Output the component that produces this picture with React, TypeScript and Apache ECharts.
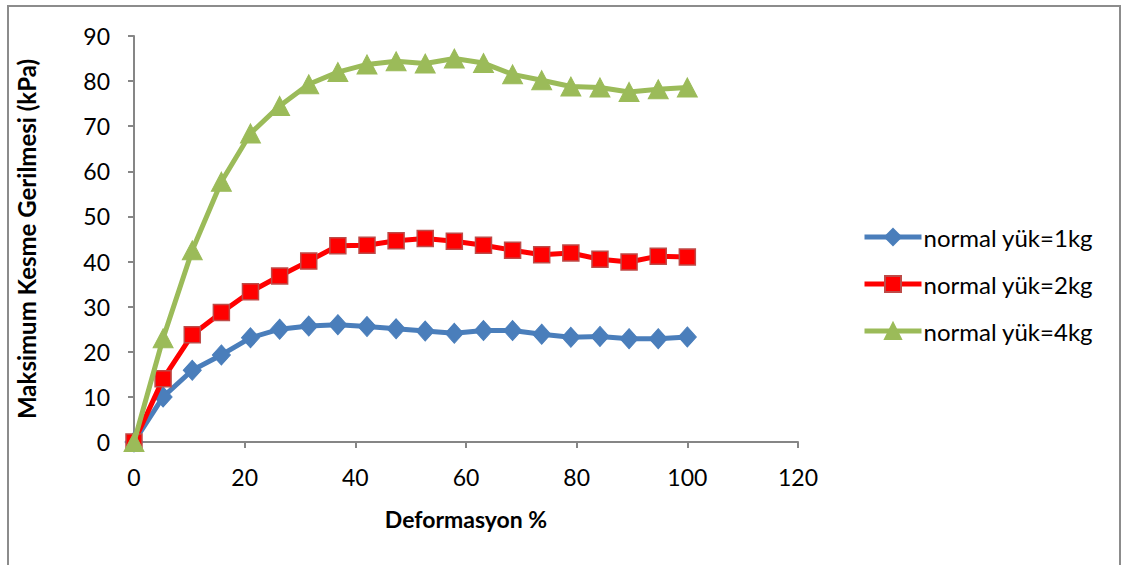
import React, { useEffect, useRef } from "react";
import * as echarts from "echarts";

const deformation = [0, 5.26, 10.53, 15.79, 21.05, 26.32, 31.58, 36.84, 42.11, 47.37, 52.63, 57.89, 63.16, 68.42, 73.68, 78.95, 84.21, 89.47, 94.74, 100];
const load1kg = [0, 10.0, 15.9, 19.3, 23.1, 25.0, 25.7, 26.0, 25.6, 25.1, 24.6, 24.1, 24.7, 24.7, 23.9, 23.2, 23.4, 22.9, 22.9, 23.3];
const load2kg = [0, 14.0, 23.8, 28.7, 33.3, 36.8, 40.1, 43.5, 43.6, 44.6, 45.1, 44.5, 43.6, 42.5, 41.5, 41.9, 40.5, 39.9, 41.2, 41.0];
const load4kg = [0, 23.0, 42.5, 57.7, 68.4, 74.5, 79.3, 82.0, 83.7, 84.4, 83.9, 85.0, 84.0, 81.5, 80.2, 78.8, 78.6, 77.6, 78.2, 78.6];
const seriesNames = ["normal yük=1kg", "normal yük=2kg", "normal yük=4kg"];
const xTitle = "Deformasyon %";
const yTitle = "Maksimum Kesme Gerilmesi (kPa)";

const FONT = "Lato, 'Open Sans', sans-serif";
const AXIS_GRAY = "#868686";

export default function App() {
  const ref = useRef<HTMLDivElement>(null);
  useEffect(() => {
    if (!ref.current) return;
    const chart = echarts.init(ref.current, undefined, { renderer: "svg" });
    const pair = (ys: number[]) => deformation.map((x, i) => [x, ys[i]]);
    chart.setOption({
      animation: false,
      backgroundColor: "#ffffff",
      textStyle: { fontFamily: FONT },
      graphic: [
        {
          type: "rect",
          shape: { x: 8, y: 6, width: 1112, height: 620 },
          style: { fill: "none", stroke: "#8c8c8c", lineWidth: 2 },
          silent: true,
          z: -1,
        },
      ],
      grid: { left: 134, right: 330, top: 36, bottom: 123, containLabel: false },
      legend: {
        orient: "vertical",
        left: 857,
        top: 220,
        itemWidth: 57,
        itemHeight: 20,
        itemGap: 23,
        lineStyle: { width: 5 },
        textStyle: { fontSize: 24, color: "#000", fontFamily: FONT, padding: [0, 0, 0, -3] },
        data: seriesNames,
      },
      xAxis: {
        type: "value",
        min: 0,
        max: 120,
        interval: 20,
        name: xTitle,
        nameLocation: "middle",
        nameGap: 65,
        nameTextStyle: { fontSize: 23, fontWeight: "bold", color: "#000", fontFamily: FONT },
        axisLine: { show: true, lineStyle: { color: AXIS_GRAY, width: 2 } },
        axisTick: { show: true, inside: false, length: 6, lineStyle: { color: AXIS_GRAY, width: 2 } },
        axisLabel: { fontSize: 23, color: "#000", margin: 23, fontFamily: FONT },
        splitLine: { show: false },
      },
      yAxis: {
        type: "value",
        min: 0,
        max: 90,
        interval: 10,
        name: yTitle,
        nameLocation: "middle",
        nameGap: 96,
        nameRotate: 90,
        nameTextStyle: { fontSize: 24, fontWeight: "bold", color: "#000", fontFamily: FONT },
        axisLine: { show: true, lineStyle: { color: AXIS_GRAY, width: 2 } },
        axisTick: { show: true, inside: false, length: 6, lineStyle: { color: AXIS_GRAY, width: 2 } },
        axisLabel: { fontSize: 23, color: "#000", margin: 24, fontFamily: FONT },
        splitLine: { show: false },
      },
      series: [
        {
          name: seriesNames[0],
          type: "line",
          data: pair(load1kg),
          symbol: "diamond",
          symbolSize: [18, 20],
          lineStyle: { color: "#4a7ebb", width: 5 },
          itemStyle: { color: "#4a7ebb", borderColor: "#4a7ebb", borderWidth: 1 },
          z: 2,
        },
        {
          name: seriesNames[1],
          type: "line",
          data: pair(load2kg),
          symbol: "rect",
          symbolSize: 16,
          lineStyle: { color: "#ff0000", width: 5 },
          itemStyle: { color: "#ff0000", borderColor: "#be4b48", borderWidth: 1.5 },
          z: 3,
        },
        {
          name: seriesNames[2],
          type: "line",
          data: pair(load4kg),
          symbol: "triangle",
          symbolSize: [20, 19],
          lineStyle: { color: "#9bbb59", width: 5 },
          itemStyle: { color: "#9bbb59", borderColor: "#9bbb59", borderWidth: 1 },
          z: 4,
        },
      ],
    });
    return () => chart.dispose();
  }, []);
  return (
    <div
      ref={ref}
      style={{ position: "fixed", left: 0, top: 0, width: 1128, height: 565, background: "#fff" }}
    />
  );
}
